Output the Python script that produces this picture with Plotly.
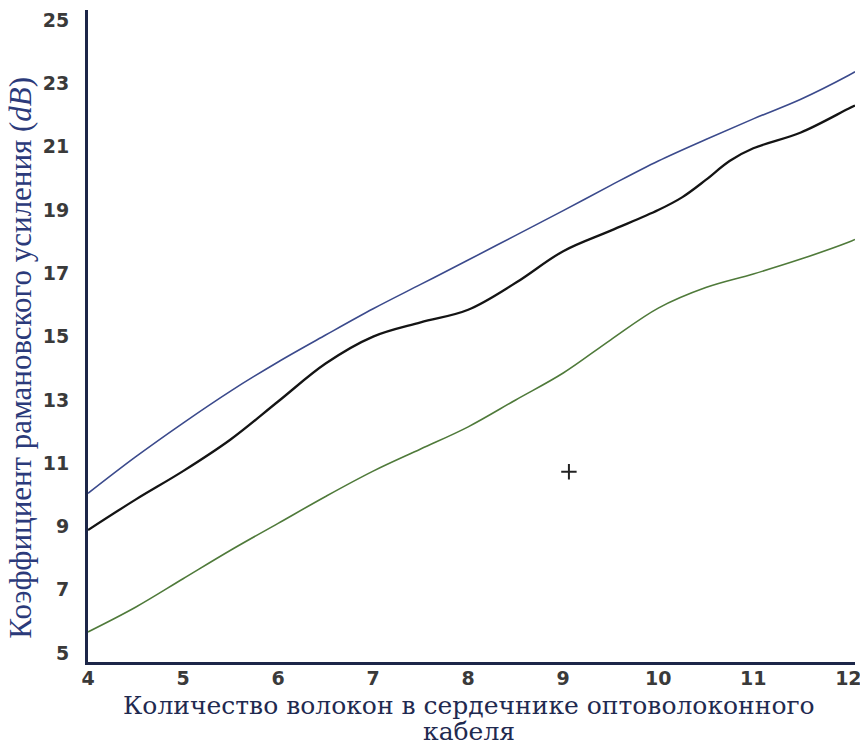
import plotly.graph_objects as go

x_vals = [4, 4.5, 5, 5.5, 6, 6.5, 7, 7.5, 8, 8.5, 9, 9.5, 10, 10.5, 11, 11.5, 12, 12.07]
blue_vals = [10.05, 11.2, 12.27, 13.28, 14.2, 15.05, 15.88, 16.65, 17.42, 18.2, 18.98, 19.78, 20.55, 21.23, 21.88, 22.5, 23.25, 23.37]
black_x = [4, 4.5, 5, 5.5, 6, 6.5, 7, 7.5, 8, 8.5, 9, 9.5, 10, 10.25, 10.5, 10.75, 11, 11.5, 12, 12.07]
black_vals = [8.89, 9.85, 10.75, 11.75, 12.95, 14.15, 15.0, 15.45, 15.85, 16.7, 17.7, 18.35, 19.0, 19.4, 19.95, 20.55, 20.95, 21.45, 22.2, 22.3]
green_vals = [5.67, 6.45, 7.35, 8.25, 9.1, 9.95, 10.75, 11.45, 12.15, 13.0, 13.85, 14.9, 15.9, 16.55, 16.98, 17.45, 17.98, 18.07]
marker_x = [9.06]
marker_y = [10.73]
y_ticks = [5, 7, 9, 11, 13, 15, 17, 19, 21, 23, 25]
x_ticks = [4, 5, 6, 7, 8, 9, 10, 11, 12]
x_title_lines = ["Количество волокон в сердечнике оптоволоконного", "кабеля"]
y_title = "Коэффициент рамановского усиления (<i>dB</i>)"

fig = go.Figure()
fig.add_trace(go.Scatter(x=x_vals, y=blue_vals, mode="lines",
                         line=dict(color="#3b4a8c", width=1.6, shape="spline"), showlegend=False))
fig.add_trace(go.Scatter(x=black_x, y=black_vals, mode="lines",
                         line=dict(color="#141414", width=2.3, shape="spline"), showlegend=False))
fig.add_trace(go.Scatter(x=x_vals, y=green_vals, mode="lines",
                         line=dict(color="#4f7a3a", width=1.6, shape="spline"), showlegend=False))
fig.add_trace(go.Scatter(x=marker_x, y=marker_y, mode="markers",
                         marker=dict(symbol="cross-thin", size=11, line=dict(color="#222", width=2)),
                         showlegend=False))

tickfont = dict(family="DejaVu Sans", size=19, color="#3a3a3a", weight="bold")

fig.update_layout(
    width=860, height=744,
    margin=dict(l=88, r=5, t=10, b=82, autoexpand=False),
    paper_bgcolor="white", plot_bgcolor="white",
    xaxis=dict(range=[4, 12.07], tickvals=x_ticks, showgrid=False, zeroline=False,
               showline=True, linecolor="#1c2648", linewidth=3, ticks="",
               tickfont=tickfont, ticklabelstandoff=-3, ticklabeloverflow="allow",
               automargin=False),
    yaxis=dict(range=[4.72, 25.32], tickvals=y_ticks, showgrid=False, zeroline=False,
               showline=True, linecolor="#1c2648", linewidth=3, ticks="",
               tickfont=tickfont, ticklabelstandoff=12, ticklabeloverflow="allow",
               automargin=False),
    font=dict(family="DejaVu Sans"),
)

fig.add_annotation(xref="paper", yref="paper", x=-0.088, y=0.466,
                   text=y_title,
                   textangle=-90, showarrow=False, xanchor="center", yanchor="middle",
                   font=dict(family="Liberation Serif", size=31, color="#2b3a7a"))
fig.add_annotation(xref="paper", yref="paper", x=0.497, y=-0.066,
                   text=x_title_lines[0],
                   showarrow=False, xanchor="center", yanchor="middle",
                   font=dict(family="DejaVu Serif", size=25, color="#1f2a50"))
fig.add_annotation(xref="paper", yref="paper", x=0.497, y=-0.107,
                   text=x_title_lines[1],
                   showarrow=False, xanchor="center", yanchor="middle",
                   font=dict(family="DejaVu Serif", size=25, color="#1f2a50"))

fig.write_html("out.html")
